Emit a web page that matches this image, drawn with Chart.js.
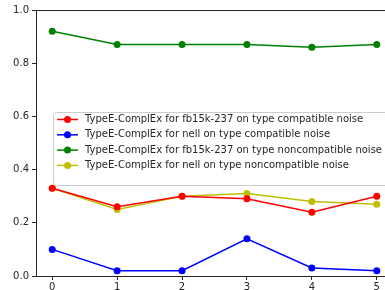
<!DOCTYPE html>
<html>
<head>
<meta charset="utf-8">
<script src="https://cdn.jsdelivr.net/npm/chart.js@4/dist/chart.umd.min.js"></script>
<style>
  html, body { margin: 0; padding: 0; background: #fff; overflow: hidden; }
  #wrap { width: 385px; height: 290px; overflow: hidden; }
  canvas { display: block; }
</style>
</head>
<body>
<div id="wrap"><canvas id="chart" width="400" height="290"></canvas></div>
<script>
const steps = [0, 1, 2, 3, 4, 5];
const fbCompatible = [0.33, 0.26, 0.30, 0.29, 0.24, 0.30];
const nellCompatible = [0.10, 0.02, 0.02, 0.14, 0.03, 0.02];
const fbNoncompatible = [0.92, 0.87, 0.87, 0.87, 0.86, 0.87];
const nellNoncompatible = [0.33, 0.25, 0.30, 0.31, 0.28, 0.27];
const yTicks = [0, 0.2, 0.4, 0.6, 0.8, 1.0];

const series = [
  { label: "TypeE-ComplEx for fb15k-237 on type compatible noise", values: fbCompatible, color: "#ff0000" },
  { label: "TypeE-ComplEx for nell on type compatible noise", values: nellCompatible, color: "#0000ff" },
  { label: "TypeE-ComplEx for fb15k-237 on type noncompatible noise", values: fbNoncompatible, color: "#008000" },
  { label: "TypeE-ComplEx for nell on type noncompatible noise", values: nellNoncompatible, color: "#bfbf00" }
];

const FONT = "'DejaVu Sans', sans-serif";
const AXIS = "#262626";

// frame on top + in-axes legend box like matplotlib
const framePlugin = {
  id: "frame",
  afterDraw(chart) {
    const { ctx, chartArea: a } = chart;
    ctx.save();
    ctx.strokeStyle = AXIS;
    ctx.lineWidth = 1;
    ctx.beginPath();
    ctx.moveTo(a.left, a.top + 0.5);
    ctx.lineTo(a.right, a.top + 0.5);
    ctx.stroke();

    // legend
    const bx = 53, by = 112, bw = 345, bh = 73;
    ctx.fillStyle = "rgba(255,255,255,0.85)";
    ctx.strokeStyle = "#cccccc";
    ctx.beginPath();
    ctx.roundRect(bx + 0.5, by + 0.5, bw, bh, 3);
    ctx.fill();
    ctx.stroke();
    ctx.font = "10px " + FONT;
    ctx.textBaseline = "middle";
    series.forEach((s, i) => {
      const y = by + 7.5 + i * 15.3;
      ctx.strokeStyle = s.color;
      ctx.lineWidth = 1.5;
      ctx.beginPath();
      ctx.moveTo(57, y);
      ctx.lineTo(78, y);
      ctx.stroke();
      ctx.fillStyle = s.color;
      ctx.beginPath();
      ctx.arc(67.5, y, 3.5, 0, Math.PI * 2);
      ctx.fill();
      ctx.fillStyle = AXIS;
      ctx.fillText(s.label, 85, y);
    });
    ctx.restore();
  }
};

new Chart(document.getElementById("chart"), {
  type: "line",
  data: {
    datasets: series.map(s => ({
      label: s.label,
      data: steps.map((x, i) => ({ x: x, y: s.values[i] })),
      borderColor: s.color,
      backgroundColor: s.color,
      borderWidth: 1.5,
      pointRadius: 3.5,
      pointBorderWidth: 0,
      tension: 0
    }))
  },
  options: {
    responsive: false,
    animation: false,
    layout: { padding: { top: 10, right: 7, left: 0, bottom: 0 } },
    plugins: { legend: { display: false }, tooltip: { enabled: false } },
    scales: {
      x: {
        type: "linear",
        min: -0.25,
        max: 5.25,
        afterBuildTicks: scale => { scale.ticks = steps.map(v => ({ value: v })); },
        afterFit: scale => { scale.height = 14; },
        grid: { drawOnChartArea: false, drawTicks: true, tickLength: 4, color: AXIS },
        border: { display: true, color: AXIS, width: 1 },
        ticks: { font: { family: FONT, size: 10 }, color: AXIS, padding: 1, maxRotation: 0 }
      },
      y: {
        min: 0,
        max: 1,
        afterBuildTicks: scale => { scale.ticks = yTicks.map(v => ({ value: v })); },
        afterFit: scale => { scale.width = 36; },
        grid: { drawOnChartArea: false, drawTicks: true, tickLength: 4, color: AXIS },
        border: { display: true, color: AXIS, width: 1 },
        ticks: { font: { family: FONT, size: 10 }, color: AXIS, padding: 3, callback: v => v.toFixed(1) }
      }
    }
  },
  plugins: [framePlugin]
});
</script>
</body>
</html>
